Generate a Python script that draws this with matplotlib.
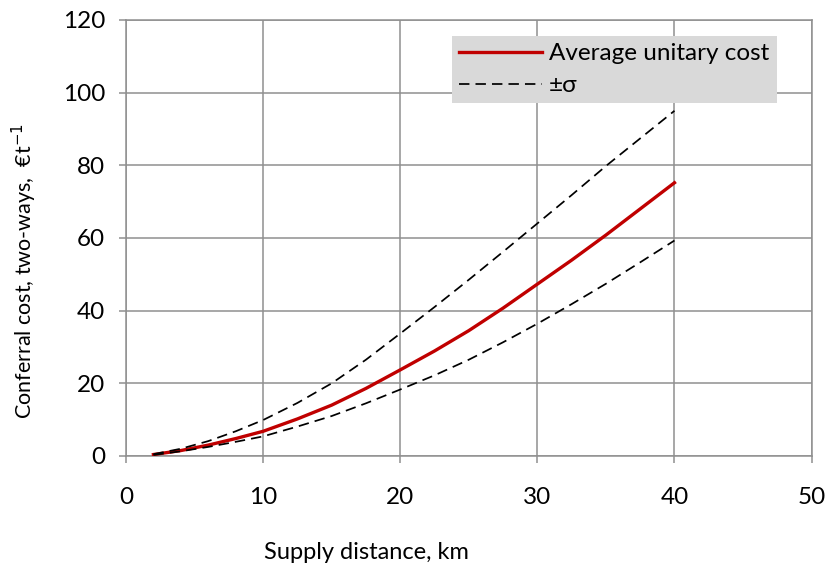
import matplotlib
matplotlib.use("Agg")
import matplotlib.pyplot as plt

# supply distance (km) and conferral cost (EUR/t)
distance = [2, 4, 6, 8, 10, 12.5, 15, 17.5, 20, 22.5, 25, 27.5, 30, 32.5, 35, 37.5, 40]
avg_cost = [0.4, 1.5, 3.0, 4.8, 6.8, 10.2, 14.0, 18.6, 23.7, 28.9, 34.5, 40.7, 47.3, 53.9, 60.8, 68.0, 75.2]
upper_cost = [0.5, 2.0, 4.1, 6.8, 9.9, 14.6, 20.0, 26.5, 33.7, 41.0, 48.5, 56.2, 64.0, 71.8, 79.8, 87.4, 95.0]
lower_cost = [0.3, 1.3, 2.5, 3.9, 5.4, 8.1, 11.0, 14.5, 18.3, 22.2, 26.5, 31.3, 36.4, 41.8, 47.4, 53.3, 59.3]

x_ticks = [0, 10, 20, 30, 40, 50]
y_ticks = [0, 20, 40, 60, 80, 100, 120]

plt.rcParams['font.family'] = ['Lato', 'DejaVu Sans']
grey = '#8f8f8f'

fig = plt.figure(figsize=(8.29, 5.70), dpi=100)
ax = fig.add_axes([0.152, 0.2, 0.827, 0.765])

ax.plot(distance, avg_cost, color='#c00000', lw=2.4, label='Average unitary cost', zorder=3)
ax.plot(distance, upper_cost, color='black', lw=1.25, dashes=(6, 3.5), label='±σ', zorder=3)
ax.plot(distance, lower_cost, color='black', lw=1.25, dashes=(6, 3.5), zorder=3)

ax.set_xlim(0, 50)
ax.set_ylim(0, 120)
ax.set_xticks(x_ticks)
ax.set_yticks(y_ticks)
ax.grid(True, color=grey, lw=1.1)
ax.set_axisbelow(True)
for s in ax.spines.values():
    s.set_color(grey)
    s.set_linewidth(1.1)
ax.tick_params(axis='both', direction='out', length=5, width=1.1, color=grey, labelsize=17.5)
ax.tick_params(axis='x', pad=17)
ax.tick_params(axis='y', pad=10)

fig.text(0.442, 0.03, 'Supply distance, km', ha='center', va='center', fontsize=17)
fig.text(0.030, 0.525, 'Conferral cost, two-ways,  €t$^{-1}$', rotation=90,
         ha='center', va='center', fontsize=15.5)

leg = ax.legend(loc='upper left', bbox_to_anchor=(0.545, 0.937), bbox_transform=fig.transFigure,
                frameon=True, fancybox=False, framealpha=1, facecolor='#d9d9d9', edgecolor='none',
                fontsize=17.5, handlelength=3.4, handletextpad=0.3, borderpad=0.3,
                labelspacing=0.45, borderaxespad=0)
leg.get_frame().set_linewidth(0)

fig.savefig('out.png', dpi=100)
